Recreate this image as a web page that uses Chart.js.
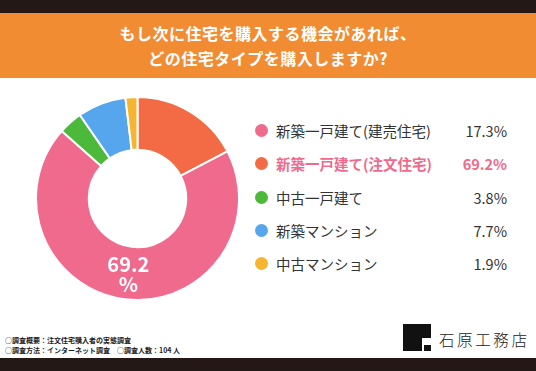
<!DOCTYPE html>
<html>
<head>
<meta charset="utf-8">
<script src="https://cdn.jsdelivr.net/npm/chart.js@4"></script>
<style>
  html,body{margin:0;padding:0;background:#fff;}
  body{width:536px;height:371px;position:relative;overflow:hidden;font-family:"Noto Sans CJK JP","Noto Sans",sans-serif;}
  #topbar{position:absolute;left:0;top:0;width:536px;height:13px;background:#231815;}
  #header{position:absolute;left:0;top:13px;width:536px;height:65px;background:#F28C32;color:#fff;font-weight:bold;font-size:16px;text-align:center;line-height:25px;padding-top:8px;box-sizing:border-box;letter-spacing:0.5px;}
  #chartBox{position:absolute;left:35px;top:96px;width:205px;height:205px;}
  #legend{position:absolute;left:0;top:0;}
  .row{position:absolute;left:255px;width:252px;height:24px;font-size:14.5px;color:#333;line-height:24px;}
  .dot{position:absolute;left:0;top:5px;width:13px;height:13px;border-radius:50%;}
  .lab{position:absolute;left:21px;top:0;white-space:nowrap;}
  .val{position:absolute;right:0;top:0;white-space:nowrap;}
  .hl{color:#EF6A8C;font-weight:bold;}
  #notes{position:absolute;left:5px;top:335px;font-size:7px;font-weight:bold;color:#222;line-height:10px;white-space:pre;}
  #logo{position:absolute;left:403px;top:324px;width:28px;height:27px;}
  #logoText{position:absolute;left:439px;top:328px;font-size:15.5px;letter-spacing:2.6px;color:#222;font-weight:300;white-space:nowrap;line-height:22px;}
  #botbar{position:absolute;left:0;top:358px;width:536px;height:13px;background:#231815;}
</style>
</head>
<body>
<div id="topbar"></div>
<div id="header">もし次に住宅を購入する機会があれば、<br>どの住宅タイプを購入しますか?</div>
<div id="chartBox"><canvas id="c" width="205" height="205"></canvas></div>
<div id="legend"></div>
<div id="notes">○調査概要：注文住宅購入者の実態調査
○調査方法：インターネット調査　○調査人数：104 人</div>
<svg id="logo" viewBox="0 0 28 27">
  <rect x="0" y="0" width="28" height="14" fill="#111"/>
  <rect x="0" y="14" width="19" height="13" fill="#111"/>
  <rect x="21" y="21" width="7" height="6" fill="#111"/>
</svg>
<div id="logoText">石原工務店</div>
<div id="botbar"></div>
<script>
const categories = ["新築一戸建て(建売住宅)", "新築一戸建て(注文住宅)", "中古一戸建て", "新築マンション", "中古マンション"];
const values = [17.3, 69.2, 3.8, 7.7, 1.9];
const sliceColors = ["#F26B45", "#F06A8E", "#4DB93A", "#55A6EC", "#F6B530"];
const legendColors = ["#F06A8E", "#F26B45", "#4DB93A", "#55A6EC", "#F6B530"];
const highlightIndex = 1;

// legend
const legend = document.getElementById('legend');
const rowTops = [119, 152, 186, 219, 252];
categories.forEach((c, i) => {
  const r = document.createElement('div');
  r.className = 'row' + (i === highlightIndex ? ' hl' : '');
  r.style.top = rowTops[i] + 'px';
  r.innerHTML = '<span class="dot" style="background:' + legendColors[i] + '"></span>' +
    '<span class="lab">' + c + '</span><span class="val">' + values[i].toFixed(1) + '%</span>';
  legend.appendChild(r);
});

const labelPlugin = {
  id: 'bigLabel',
  afterDatasetsDraw(chart) {
    const arc = chart.getDatasetMeta(0).data[highlightIndex];
    const p = arc.tooltipPosition();
    const ctx = chart.ctx;
    ctx.save();
    ctx.fillStyle = '#fff';
    ctx.font = 'bold 20px "Noto Sans CJK JP", "Noto Sans", sans-serif';
    ctx.textAlign = 'center';
    ctx.textBaseline = 'middle';
    ctx.fillText(values[highlightIndex].toFixed(1), p.x, p.y - 9);
    ctx.fillText('%', p.x, p.y + 11);
    ctx.restore();
  }
};

new Chart(document.getElementById('c'), {
  type: 'doughnut',
  data: {
    labels: categories,
    datasets: [{
      data: values,
      backgroundColor: sliceColors,
      borderColor: '#fff',
      borderWidth: 2,
      hoverOffset: 0
    }]
  },
  options: {
    responsive: false,
    animation: false,
    cutout: '48%',
    layout: { padding: 0 },
    plugins: { legend: { display: false }, tooltip: { enabled: false } }
  },
  plugins: [labelPlugin]
});
</script>
</body>
</html>
